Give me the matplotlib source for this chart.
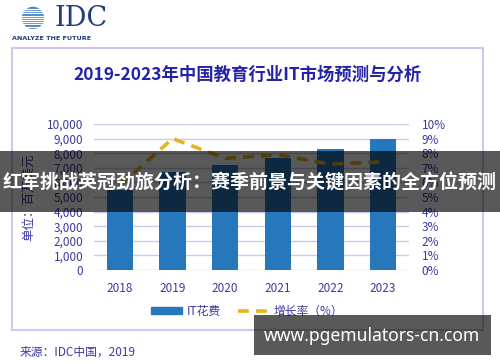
import numpy as np
import matplotlib.pyplot as plt
from matplotlib.patches import Rectangle, Circle
from matplotlib.lines import Line2D
from matplotlib.patches import Patch

plt.rcParams['font.family'] = ['Noto Sans CJK SC', 'DejaVu Sans']

# 数据
anios = ['2018', '2019', '2020', '2021', '2022', '2023']
gasto_it = [5500, 6700, 7200, 7700, 8300, 9000]
crecimiento = [5.8, 9.0, 7.65, 7.9, 7.25, 7.4]
ticks_izq = [0, 1000, 2000, 3000, 4000, 5000, 6000, 7000, 8000, 9000, 10000]
ticks_der = [0, 1, 2, 3, 4, 5, 6, 7, 8, 9, 10]

azul = '#2777bd'
dorado = '#e8b41e'
texto = '#3a3aa0'
rejilla = '#cacaf0'

fig = plt.figure(figsize=(5, 3.62), dpi=100)
W, H = 500, 362

# Ejes principales
ax = fig.add_axes([93.7 / W, 1 - 270 / H, (409.3 - 93.7) / W, (270 - 124) / H])
x = np.arange(len(anios))
ax.bar(x, gasto_it, width=0.5, color=azul, zorder=2)
ax.set_xlim(-0.5, 5.5)
ax.set_ylim(0, 10000)
ax.set_yticks(ticks_izq)
ax.set_yticklabels([f'{v:,}' for v in ticks_izq])
ax.set_xticks(x)
ax.set_xticklabels(anios)
ax.grid(axis='y', color=rejilla, linewidth=1, zorder=0)
ax.set_axisbelow(True)
for s in ax.spines.values():
    s.set_visible(False)
ax.tick_params(axis='y', length=0, pad=7.5, colors=texto, labelsize=8.5)
ax.tick_params(axis='x', length=0, pad=9, colors=texto, labelsize=8.5)
ax.set_ylabel('单位：百万美元', color=texto, fontsize=9, labelpad=4)
ax.yaxis.set_label_coords(-0.185, 0.5)

ax2 = ax.twinx()
ax2.plot(x, crecimiento, color=dorado, linestyle=(0, (3, 2)), linewidth=2.6, zorder=3)
ax2.set_ylim(0, 10)
ax2.set_yticks(ticks_der)
ax2.set_yticklabels([f'{v}%' for v in ticks_der])
for s in ax2.spines.values():
    s.set_visible(False)
ax2.tick_params(axis='y', length=0, pad=9, colors=texto, labelsize=8.5)

# Leyenda
manijas = [Patch(color=azul, label='IT花费'),
           Line2D([0], [0], color=dorado, linestyle=(0, (3, 2)), linewidth=2.6, label='增长率（%）')]
fig.legend(handles=manijas, loc='center', bbox_to_anchor=(247 / W, 1 - 311 / H), ncol=2,
           frameon=False, fontsize=8.5, labelcolor=texto, handlelength=2.6, handleheight=0.5,
           columnspacing=1.5, handletextpad=0.4)

# Capa superior: marco, logo, titulo, banner
top = fig.add_axes([0, 0, 1, 1], zorder=10)
top.set_xlim(0, W)
top.set_ylim(H, 0)
top.axis('off')
top.patch.set_alpha(0)

top.add_patch(Rectangle((12, 48), 471, 282, fill=False, edgecolor=rejilla, linewidth=1.5))

# Logo IDC
top.add_patch(Circle((33, 18), 10.5, color='#3f7fc0', zorder=2))
for yy in np.arange(9, 29, 2.2):
    top.plot([12, 52], [yy, yy], color='white', linewidth=0.9, zorder=3)
top.text(54, 18, 'IDC', fontsize=19.5, family='DejaVu Serif', color='#1f3c7a', va='center', ha='left')
top.text(12, 39, 'ANALYZE THE FUTURE', fontsize=4.6, color='#1f3c7a', va='center', ha='left',
         family='DejaVu Sans', fontweight='bold')

top.text(248, 75, '2019-2023年中国教育行业IT市场预测与分析', fontsize=12.5, fontweight='bold',
         color='#2323a8', ha='center', va='center')

top.text(20, 352, '来源：IDC中国，2019', fontsize=8.5, color=texto, ha='left', va='center')

# Banner
top.add_patch(Rectangle((0, 151), W, 61, color='black', alpha=0.65, zorder=5, linewidth=0))
top.text(250, 183, '红军挑战英冠劲旅分析：赛季前景与关键因素的全方位预测', fontsize=13.7,
         fontweight='bold', color='white', ha='center', va='center', zorder=6)

top.add_patch(Rectangle((254, 315), 237, 40, color='black', alpha=0.65, zorder=5, linewidth=0))
top.text(372, 336, 'www.pgemulators-cn.com', fontsize=12.6, fontweight='bold', family='Noto Sans',
         color='white', ha='center', va='center', zorder=6)

fig.savefig('out.png', dpi=100)
